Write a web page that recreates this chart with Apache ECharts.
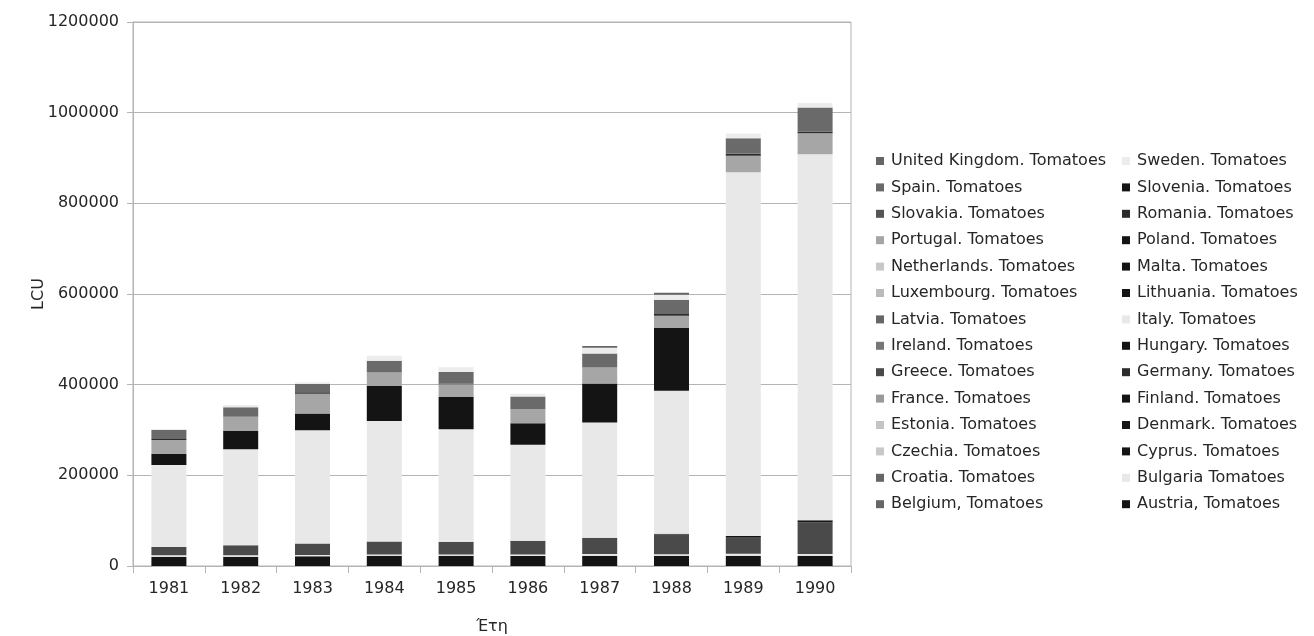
<!DOCTYPE html>
<html>
<head>
<meta charset="utf-8">
<title>Tomatoes, LCU</title>
<script src="https://cdn.jsdelivr.net/npm/echarts@6/dist/echarts.min.js"></script>
<style>
  html, body { margin: 0; padding: 0; background: #ffffff; }
  #chart { width: 1314px; height: 636px; }
</style>
</head>
<body>
<div id="chart"></div>
<script>
// Years on the category axis
const years = ['1981', '1982', '1983', '1984', '1985', '1986', '1987', '1988', '1989', '1990'];

// Value axis ticks
const yTicks = [0, 200000, 400000, 600000, 800000, 1000000, 1200000];

// Values per country (LCU); null where there is no value
const austria     = [20500, 20500, 21500, 22500, 22500, 22000, 22500, 22500, 22500, 22500];
const belgium     = [null, null, null, null, null, null, null, null, null, null];
const bulgaria    = [3000, 3000, 3000, 3000, 3000, 3500, 4000, 3500, 4500, 3700];
const croatia     = [null, null, null, null, null, null, null, null, null, null];
const cyprus      = [null, null, null, null, null, null, null, null, null, null];
const czechia     = [null, null, null, null, null, null, null, null, null, null];
const denmark     = [null, null, null, null, null, null, null, null, null, null];
const estonia     = [null, null, null, null, null, null, null, null, null, null];
const finland     = [null, null, null, null, null, null, null, null, null, null];
const france      = [null, null, null, null, null, null, null, null, null, null];
const germany     = [null, null, null, null, null, null, null, null, null, null];
const greece      = [18400, 22000, 25000, 28700, 28000, 30200, 36000, 43400, 36800, 69900];
const hungary     = [null, null, null, null, null, null, null, 1500, 2200, 5000];
const ireland     = [null, null, null, null, null, null, null, null, null, null];
const italy       = [181000, 211800, 250000, 265400, 248000, 211800, 253800, 315700, 802300, 807400];
const latvia      = [null, null, null, null, null, null, null, null, null, null];
const lithuania   = [null, null, null, null, null, null, null, null, null, null];
const luxembourg  = [null, null, null, null, null, null, null, null, null, null];
const malta       = [null, null, null, null, null, null, null, null, null, null];
const netherlands = [null, null, null, null, null, null, null, null, null, null];
const poland      = [24300, 40400, 36800, 77200, 71300, 47600, 86000, 138300, null, null];
const portugal    = [30900, 31600, 43400, 30200, 28000, 30900, 35300, 27100, 36600, 46300];
const romania     = [2000, null, 3500, null, 2000, null, null, 3700, 4400, 3700];
const slovakia    = [null, null, null, null, null, null, null, null, null, null];
const slovenia    = [null, null, null, null, null, null, null, null, null, null];
const spain       = [19900, 20700, 18500, 25600, 25000, 28000, 30900, 31500, 34000, 52900];
const sweden      = [2000, 5000, 3500, 11000, 10400, 6000, 13200, 11000, 11000, 9700];
const unitedKingdom = [null, null, null, null, null, null, 3500, 4400, null, null];

// Stack order, bottom to top: [label, values, fill]
const stack = [
  ['Austria, Tomatoes',         austria,       '#141414'],
  ['Belgium, Tomatoes',         belgium,       '#666666'],
  ['Bulgaria Tomatoes',         bulgaria,      '#e8e8e8'],
  ['Croatia. Tomatoes',         croatia,       '#666666'],
  ['Cyprus. Tomatoes',          cyprus,        '#141414'],
  ['Czechia. Tomatoes',         czechia,       '#c8c8c8'],
  ['Denmark. Tomatoes',         denmark,       '#141414'],
  ['Estonia. Tomatoes',         estonia,       '#c4c4c4'],
  ['Finland. Tomatoes',         finland,       '#141414'],
  ['France. Tomatoes',          france,        '#9a9a9a'],
  ['Germany. Tomatoes',         germany,       '#2c2c2c'],
  ['Greece. Tomatoes',          greece,        '#4a4a4a'],
  ['Hungary. Tomatoes',         hungary,       '#141414'],
  ['Ireland. Tomatoes',         ireland,       '#777777'],
  ['Italy. Tomatoes',           italy,         '#e8e8e8'],
  ['Latvia. Tomatoes',          latvia,        '#666666'],
  ['Lithuania. Tomatoes',       lithuania,     '#141414'],
  ['Luxembourg. Tomatoes',      luxembourg,    '#bbbbbb'],
  ['Malta. Tomatoes',           malta,         '#141414'],
  ['Netherlands. Tomatoes',     netherlands,   '#c8c8c8'],
  ['Poland. Tomatoes',          poland,        '#141414'],
  ['Portugal. Tomatoes',        portugal,      '#a6a6a6'],
  ['Romania. Tomatoes',         romania,       '#2c2c2c'],
  ['Slovakia. Tomatoes',        slovakia,      '#555555'],
  ['Slovenia. Tomatoes',        slovenia,      '#141414'],
  ['Spain. Tomatoes',           spain,         '#6a6a6a'],
  ['Sweden. Tomatoes',          sweden,        '#ececec'],
  ['United Kingdom. Tomatoes',  unitedKingdom, '#666666']
];

// Legend columns, top to bottom (last series first, two per row)
const legendLeft = [];
const legendRight = [];
for (let i = stack.length - 1, k = 0; i >= 0; i--, k++) {
  (k % 2 === 0 ? legendLeft : legendRight).push(stack[i][0]);
}

const FONT = 'DejaVu Sans';
const TEXT = '#262626';
const GRID_LINE = '#b4b4b4';

const legendBase = {
  orient: 'vertical',
  top: 153,
  itemWidth: 8,
  itemHeight: 8,
  itemGap: 10.4,
  icon: 'rect',
  selectedMode: false,
  padding: 0,
  textStyle: { fontFamily: FONT, fontSize: 16, color: TEXT, lineHeight: 16, padding: [0, 0, 0, 2] }
};

const chart = echarts.init(document.getElementById('chart'), null, { renderer: 'canvas' });
chart.setOption({
  animation: false,
  backgroundColor: '#ffffff',
  grid: {
    left: 133, right: 463, top: 22, bottom: 70,
    outerBoundsMode: 'none',
    containLabel: false,
    show: true, borderColor: GRID_LINE, borderWidth: 1, backgroundColor: 'transparent'
  },
  legend: [
    Object.assign({}, legendBase, { left: 876, data: legendLeft }),
    Object.assign({}, legendBase, { left: 1122, data: legendRight })
  ],
  xAxis: {
    type: 'category',
    data: years,
    name: 'Έτη',
    nameLocation: 'middle',
    nameGap: 53,
    nameMoveOverlap: false,
    nameTextStyle: { fontFamily: FONT, fontSize: 16, color: TEXT },
    axisLine: { show: true, lineStyle: { color: GRID_LINE, width: 1 } },
    axisTick: { show: true, alignWithLabel: false, length: 7, lineStyle: { color: GRID_LINE } },
    axisLabel: { fontFamily: FONT, fontSize: 16, color: TEXT, margin: 15 },
    splitLine: { show: false }
  },
  yAxis: {
    type: 'value',
    min: yTicks[0],
    max: yTicks[yTicks.length - 1],
    interval: yTicks[1] - yTicks[0],
    name: 'LCU',
    nameLocation: 'middle',
    nameGap: 86,
    nameMoveOverlap: false,
    nameTextStyle: { fontFamily: FONT, fontSize: 16, color: TEXT },
    axisLine: { show: true, lineStyle: { color: GRID_LINE, width: 1 } },
    axisTick: { show: true, length: 6, lineStyle: { color: GRID_LINE } },
    axisLabel: { fontFamily: FONT, fontSize: 16, color: TEXT, margin: 14, formatter: (v) => String(v) },
    splitLine: { show: true, lineStyle: { color: GRID_LINE, width: 1 } }
  },
  series: stack.map(([label, values, fill]) => ({
    name: label,
    type: 'bar',
    stack: 'total',
    barWidth: 35,
    data: values,
    itemStyle: { color: fill },
    emphasis: { disabled: true }
  }))
});
</script>
</body>
</html>
